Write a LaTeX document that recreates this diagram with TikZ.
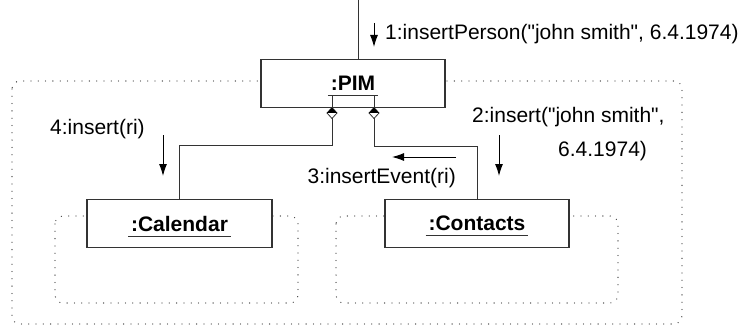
\documentclass[tikz,border=0pt]{standalone}
\usepackage{fontspec}
\setmainfont{Liberation Sans}[Ligatures=TeXOff]
\usetikzlibrary{arrows.meta}
\definecolor{linecol}{gray}{0.2}
\definecolor{dotcol}{gray}{0.25}
\newcommand{\labelfont}{\fontsize{21}{25}\selectfont}
\tikzset{
  objbox/.style={draw=linecol, line width=1.2pt, fill=white, minimum width=184pt,
    minimum height=48pt, inner sep=0pt, font=\labelfont\bfseries},
  container/.style={draw=dotcol, line width=1.3pt, line cap=round,
    dash pattern=on 0pt off 7.3pt, rounded corners=8pt},
  link/.style={draw=linecol, line width=1pt},
  msg/.style={draw=black, line width=1pt, -{Latex[length=12pt,width=8pt]}},
  msgtext/.style={inner sep=0pt, font=\labelfont},
  aggr/.pic={
    \filldraw[fill=white, draw=linecol, line width=0.8pt]
      (0,0) -- (5,5.5) -- (0,11) -- (-5,5.5) -- cycle;
    \fill[black] (0,0) -- (5,5.5) -- (-5,5.5) -- cycle;
  }
}
% object name, underlined a little below the baseline and past both ends
\newcommand{\objname}[1]{%
  \setbox0\hbox{#1}%
  \rlap{\smash{\hspace{-3pt}\textcolor{linecol}{\rule[-5.5pt]{\dimexpr\wd0+6pt\relax}{1pt}}}}%
  \box0}
\begin{document}
\begin{tikzpicture}[x=1pt, y=-1pt]
  \useasboundingbox (0,0) rectangle (749,326);

  % package outlines
  \draw[container] (12,81) rectangle (682,324);
  \draw[container] (55,216) rectangle (298,303);
  \draw[container] (336,216) rectangle (618,303);

  % objects
  \node[objbox] (pim) at (353,83.5) {\objname{:PIM}};
  \node[objbox, minimum width=185pt] (cal) at (179.5,223.5) {\objname{:Calendar}};
  \node[objbox] (con) at (477,223.5) {\objname{:Contacts}};

  % incoming call
  \coordinate (caller) at (358,0);
  \draw[link] (caller) -- (caller |- pim.north);

  % aggregation links
  \coordinate (dl) at (332,107.5);
  \coordinate (dr) at (374,107.5);
  \draw[link] ([yshift=11pt]dl) -- (332,145) -| (cal.north);
  \draw[link] ([yshift=11pt]dr) -- (374,146) -| (con.north);
  \pic at (dl) {aggr};
  \pic at (dr) {aggr};

  % messages
  \coordinate (m1a) at (374,23);  \coordinate (m1b) at (374,47);
  \coordinate (m2a) at (499,135); \coordinate (m2b) at (499,176);
  \coordinate (m3a) at (456,157); \coordinate (m3b) at (392,157);
  \coordinate (m4a) at (163,135); \coordinate (m4b) at (163,176);
  \draw[msg] (m1a) -- (m1b);
  \draw[msg] (m2a) -- (m2b);
  \draw[msg] (m3a) -- (m3b);
  \draw[msg] (m4a) -- (m4b);

  \node[msgtext, anchor=base west] (t1) at (385,40) {1:insertPerson("john smith", 6.4.1974)};
  \node[msgtext, anchor=base west] (t2a) at (472,123) {2:insert("john smith",};
  \node[msgtext, anchor=base west] (t2b) at (558,156) {6.4.1974)};
  \node[msgtext, anchor=base east] (t3) at (456,183) {3:insertEvent(ri)};
  \node[msgtext, anchor=base west] (t4) at (50,135) {4:insert(ri)};
\end{tikzpicture}
\end{document}
